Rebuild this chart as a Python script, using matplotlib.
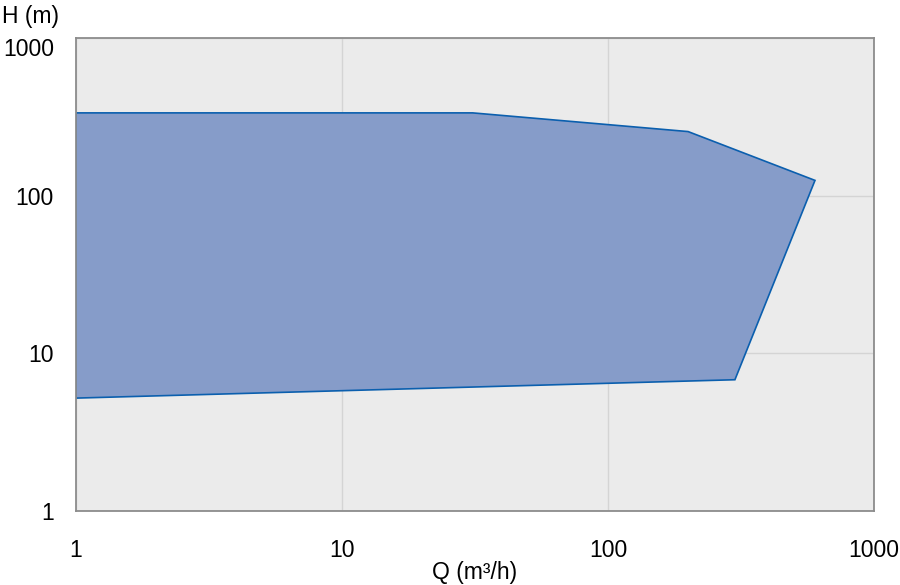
import matplotlib
matplotlib.use("Agg")
import matplotlib.pyplot as plt
from matplotlib.ticker import FixedLocator, NullLocator

# envelope of the operating range
q_values = [1, 31, 200, 600, 300, 1]
h_values = [335, 335, 255, 125, 6.8, 5.2]

tick_values = [1, 10, 100, 1000]
tick_labels = ["1", "10", "100", "1000"]

plt.rcParams["font.family"] = ["Liberation Sans", "DejaVu Sans"]
fs = 16.5

fig = plt.figure(figsize=(9, 5.85), dpi=100)
ax = fig.add_axes([76 / 900, 1 - 511 / 585, 798 / 900, 473 / 585])

ax.set_facecolor("#ebebeb")
ax.set_xscale("log")
ax.set_yscale("log")
ax.set_xlim(1, 1000)
ax.set_ylim(1, 1000)

ax.fill(q_values, h_values, facecolor="#869cc9", edgecolor="#0b5fae",
        linewidth=1.2, zorder=2)

ax.xaxis.set_major_locator(FixedLocator(tick_values))
ax.yaxis.set_major_locator(FixedLocator(tick_values))
ax.xaxis.set_minor_locator(NullLocator())
ax.yaxis.set_minor_locator(NullLocator())
ax.set_xticklabels(tick_labels)
ax.set_yticklabels(tick_labels)
ax.tick_params(length=0, labelsize=fs, colors="black")
ax.tick_params(axis="x", pad=20)
ax.tick_params(axis="y", pad=16)
# top label sits inside the frame in the original
ax.get_yticklabels()[-1].set_verticalalignment("top")

ax.grid(True, color="#d4d4d4", linewidth=1, zorder=1)
ax.set_axisbelow(True)
for s in ax.spines.values():
    s.set_color("#8c8c8c")
    s.set_linewidth(1.3)

fig.text(2 / 900, 1 - 17 / 585, "H (m)", fontsize=fs, ha="left", va="center")
fig.text(475 / 900, 1 - 572 / 585, "Q (m³/h)", fontsize=fs, ha="center", va="center")

fig.savefig("out.png", dpi=100)
